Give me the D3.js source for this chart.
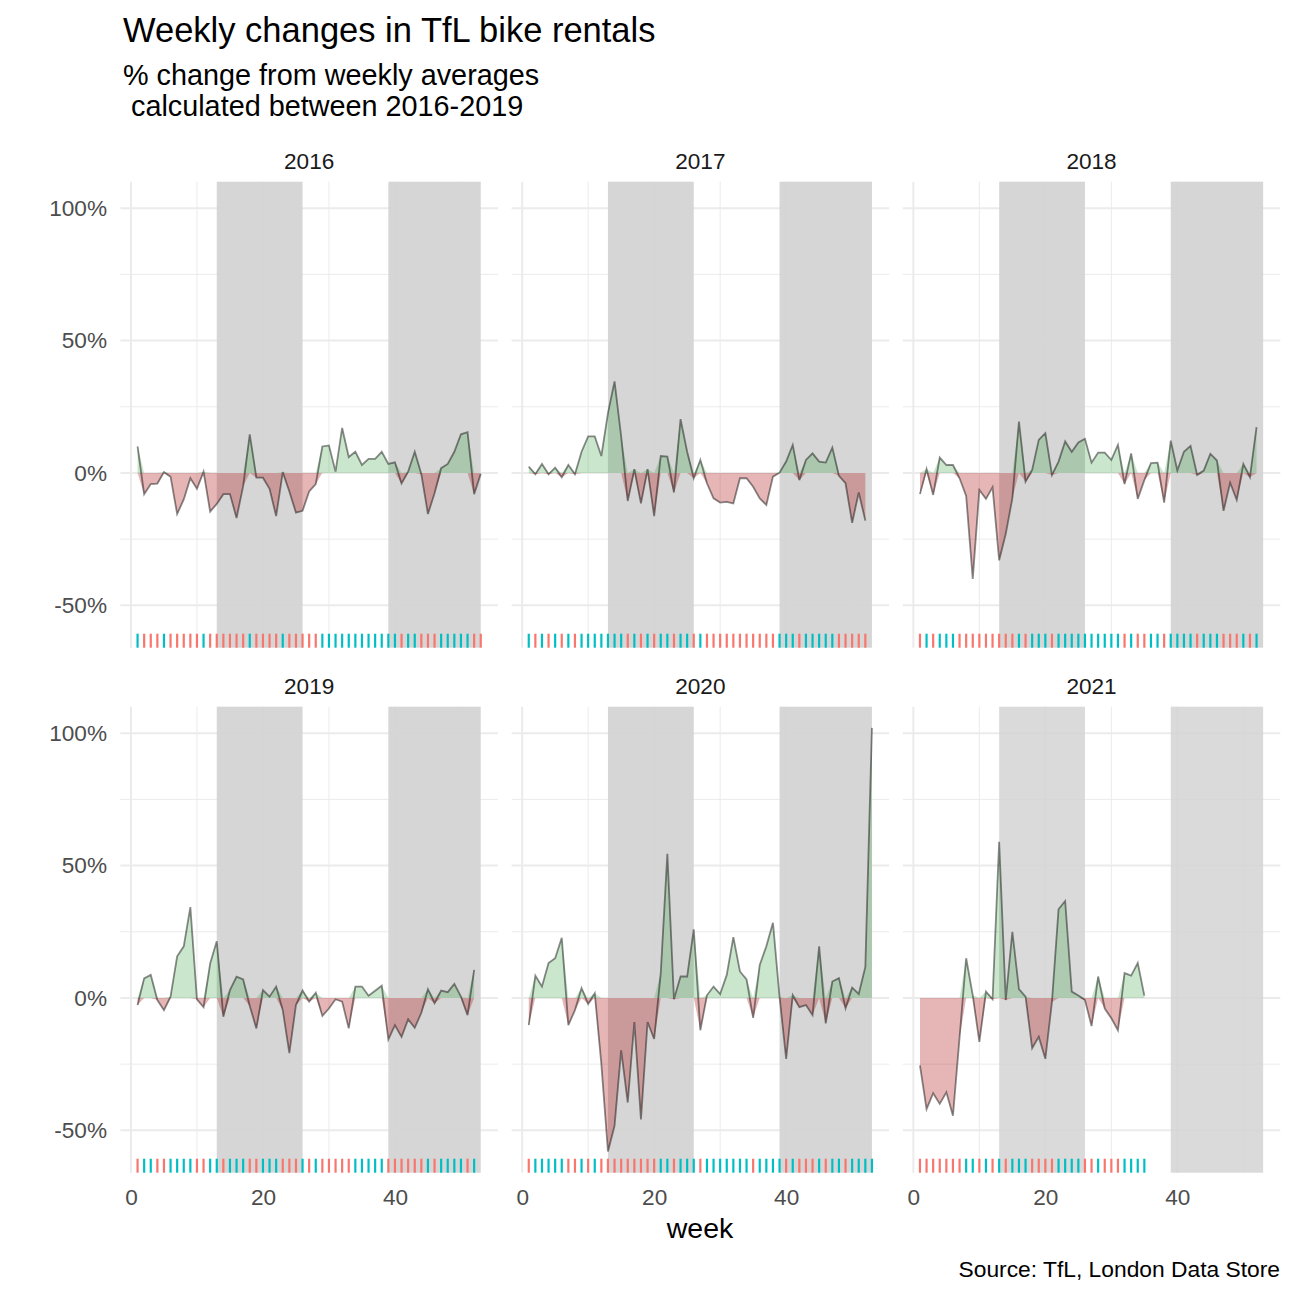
<!DOCTYPE html>
<html>
<head>
<meta charset="utf-8">
<script src="https://cdn.jsdelivr.net/npm/d3@7"></script>
<style>
  body { margin: 0; background: #fff; }
  text { font-family: "Liberation Sans", Arial, sans-serif; }
</style>
</head>
<body>
<div id="chart"></div>
<script>
// % change of weekly rentals against the 2016-2019 weekly average, week 1..n
const years = [2016, 2017, 2018, 2019, 2020, 2021];
const change2016 = [10, -8, -4.2, -4, 0.3, -1.4, -15.5, -10, -2, -6, 0.5, -14.6, -11.7, -8, -8, -17, -5, 14.6, -1.8, -1.8,
  -6, -16.3, 0.3, -7, -15, -14.3, -7, -4.2, 10, 10.4, 0.5, 17, 6, 8, 3, 5.3, 5.3, 8, 3.4, 4,
  -4, 0.5, 8, -0.5, -15.5, -7.7, 1.8, 3.4, 8, 14.6, 15.4, -8, -0.4];
const change2017 = [2.4, -0.5, 3.4, -0.5, 2, -1.6, 3, -0.5, 8, 13.8, 13.8, 6.4, 22.6, 34.6, 13.8, -10.6, 1.4, -11.5, 1.4, -16.3,
  6.4, 6.2, -7.4, 20.3, 8, -2, 4.9, -3.9, -9.6, -11.2, -10.9, -11.5, -2, -2, -5.2, -9.6, -12.1, -1.4, 0.1, 4.3,
  10.6, -2.7, 4.9, 7.4, 4.3, 3.9, 9.6, -1.1, -3.9, -18.8, -7.4, -18];
const change2018 = [-8, 1.5, -8.3, 5.8, 3, 3, -2, -8.7, -40, -6.4, -9.8, -5.4, -33, -23, -9.6, 19.4, -3.3, 1.1, 12.5, 15,
  -0.8, 4.3, 11.9, 8, 11.5, 12.9, 3.9, 7.7, 7.7, 4.9, 10.6, -4.2, 7.4, -9.8, -2.7, 3.7, 3.9, -11.2, 12.2, 0.9,
  8, 10.2, -0.8, 0.9, 7.2, 4.7, -14.3, -3.7, -10.2, 3.4, -1.6, 17.3];
const change2019 = [-2.7, 7.4, 8.7, -0.8, -4.6, 0.5, 15.7, 19.5, 34.3, -0.5, -3.5, 13, 21.4, -7.1, 3, 8, 7, -3, -11.5, 3,
  0.5, 4.3, -4.6, -20.8, -2.7, 2.8, -1.4, 2, -6.8, -4, -0.5, -1.4, -11.5, 4.3, 4.3, 0.8, 2.7, 4.6, -15.7, -10.3,
  -14.7, -8.1, -11.3, -5.6, 3.3, -2, 2.8, 2.2, 5.3, 0.5, -6.5, 10.6];
const change2020 = [-10.3, 8.4, 4.3, 13.2, 15, 22.7, -10.3, -4.6, 3.7, -2.3, 1.8, -25, -58, -48.3, -19.8, -39.5, -9.1, -45.9, -9.1, -15.5,
  9.4, 54.4, -0.5, 8.1, 8.1, 25.9, -12.2, 1, 4.3, 1.5, 8.7, 23, 10, 7, -7.5, 12.5, 19.5, 28.4, 0.5, -23,
  1, -3.5, -2.7, -6.5, 19.5, -9.6, 6.2, 7.5, -3.9, 3.9, 1.5, 11.7, 102];
const change2021 = [-25.5, -42, -36, -40, -35.6, -44.5, -15, 15, 1, -16.6, 2.4, -0.5, 59, -0.8, 25, 3.3, 0.5, -19, -14.7, -23,
  -1.5, 33.5, 36.6, 2.4, 0.9, -0.8, -10.6, 8.1, -4, -7.7, -12.2, 9.4, 8.4, 13.2, 0.9];

const shadedWeeks = [[13, 26], [39, 53]];
const weekTicks = [0, 20, 40];
const weekMinor = [10, 30, 50];
const pctTicks = [-50, 0, 50, 100];
const pctMinor = [-25, 25, 75];

const series = {
  2016: change2016, 2017: change2017, 2018: change2018,
  2019: change2019, 2020: change2020, 2021: change2021
};

const width = 1296, height = 1296;
const panelW = 377.5, panelH = 466;
const colX = [120.4, 511.6, 902.8];
const rowY = [181.7, 706.7];

const svg = d3.select("#chart").append("svg")
    .attr("width", width)
    .attr("height", height);

// shared scales (facet_wrap with fixed scales)
const allVals = years.flatMap(yr => series[yr]);
const [lo, hi] = d3.extent(allVals);
const padY = (hi - lo) * 0.05;
const maxWeek = d3.max(years, yr => series[yr].length);
const padX = (maxWeek - 1) * 0.05;

const x = d3.scaleLinear().domain([1 - padX, maxWeek + padX]).range([0, panelW]);
const y = d3.scaleLinear().domain([lo - padY, hi + padY]).range([panelH, 0]);

const green = "rgb(34,150,40)", red = "rgb(178,34,34)";

const areaPos = d3.area()
    .x(d => x(d.week))
    .y0(y(0))
    .y1(d => y(Math.max(d.v, 0)));
const areaNeg = d3.area()
    .x(d => x(d.week))
    .y0(d => y(Math.min(d.v, 0)))
    .y1(y(0));
const line = d3.line()
    .x(d => x(d.week))
    .y(d => y(d.v));

years.forEach((yr, i) => {
  const col = i % 3, row = Math.floor(i / 3);
  const data = series[yr].map((v, k) => ({week: k + 1, v: v}));
  const g = svg.append("g")
      .attr("transform", "translate(" + colX[col] + "," + rowY[row] + ")");

  // grid
  g.selectAll("line.hmin").data(pctMinor).enter().append("line")
      .attr("x1", 0).attr("x2", panelW)
      .attr("y1", d => y(d)).attr("y2", d => y(d))
      .attr("stroke", "#ebebeb").attr("stroke-width", 1);
  g.selectAll("line.vmin").data(weekMinor).enter().append("line")
      .attr("y1", 0).attr("y2", panelH)
      .attr("x1", d => x(d)).attr("x2", d => x(d))
      .attr("stroke", "#ebebeb").attr("stroke-width", 1);
  g.selectAll("line.hmaj").data(pctTicks).enter().append("line")
      .attr("x1", 0).attr("x2", panelW)
      .attr("y1", d => y(d)).attr("y2", d => y(d))
      .attr("stroke", "#ebebeb").attr("stroke-width", 2);
  g.selectAll("line.vmaj").data(weekTicks).enter().append("line")
      .attr("y1", 0).attr("y2", panelH)
      .attr("x1", d => x(d)).attr("x2", d => x(d))
      .attr("stroke", "#ebebeb").attr("stroke-width", 2);

  // shaded periods (one rect per data row in the original, hence the stacked alpha)
  g.selectAll("rect.shade").data(shadedWeeks).enter().append("rect")
      .attr("x", d => x(d[0]))
      .attr("width", d => x(d[1]) - x(d[0]))
      .attr("y", 0).attr("height", panelH)
      .attr("fill", "#d3d3d3")
      .attr("opacity", 1 - Math.pow(0.95, data.length));

  g.append("path").datum(data)
      .attr("d", areaPos)
      .attr("fill", green).attr("fill-opacity", 0.24);
  g.append("path").datum(data)
      .attr("d", areaNeg)
      .attr("fill", red).attr("fill-opacity", 0.33);
  g.append("path").datum(data)
      .attr("d", line)
      .attr("fill", "none")
      .attr("stroke", "#000").attr("stroke-opacity", 0.45)
      .attr("stroke-width", 1.8);

  // rug coloured by sign
  g.selectAll("line.rug").data(data).enter().append("line")
      .attr("x1", d => x(d.week)).attr("x2", d => x(d.week))
      .attr("y1", panelH * 0.97).attr("y2", panelH)
      .attr("stroke", d => d.v > 0 ? "#00BFC4" : "#F8766D")
      .attr("stroke-width", 2.2);

  // strip
  g.append("text")
      .attr("x", panelW / 2).attr("y", -12.7)
      .attr("text-anchor", "middle")
      .attr("font-size", "22.6px")
      .attr("fill", "#1a1a1a")
      .text(yr);

  if (col === 0) {
    const ya = g.append("g")
        .call(d3.axisLeft(y).tickValues(pctTicks).tickSize(0).tickPadding(13.4)
          .tickFormat(d => d + "%"));
    ya.select(".domain").remove();
    ya.selectAll("text").attr("font-size", "22.6px").attr("fill", "#4d4d4d")
        .attr("font-family", "Liberation Sans, Arial, sans-serif");
  }
  if (row === 1) {
    const xa = g.append("g")
        .attr("transform", "translate(0," + panelH + ")")
        .call(d3.axisBottom(x).tickValues(weekTicks).tickSize(0).tickPadding(16));
    xa.select(".domain").remove();
    xa.selectAll("text").attr("font-size", "22.6px").attr("fill", "#4d4d4d")
        .attr("font-family", "Liberation Sans, Arial, sans-serif");
  }
});

// titles
svg.append("text")
    .attr("x", 123).attr("y", 42)
    .attr("font-size", "34.5px").attr("fill", "#000")
    .text("Weekly changes in TfL bike rentals");
svg.append("text")
    .attr("x", 123).attr("y", 85)
    .attr("font-size", "28.8px").attr("fill", "#000")
    .text("% change from weekly averages");
svg.append("text")
    .attr("x", 123).attr("y", 116)
    .attr("font-size", "28.8px").attr("fill", "#000")
    .style("white-space", "pre")
    .text(" calculated between 2016-2019");

svg.append("text")
    .attr("x", 700).attr("y", 1238)
    .attr("text-anchor", "middle")
    .attr("font-size", "28.5px").attr("fill", "#000")
    .text("week");

svg.append("text")
    .attr("x", 1280).attr("y", 1277)
    .attr("text-anchor", "end")
    .attr("font-size", "22.8px").attr("fill", "#000")
    .text("Source: TfL, London Data Store");
</script>
</body>
</html>
